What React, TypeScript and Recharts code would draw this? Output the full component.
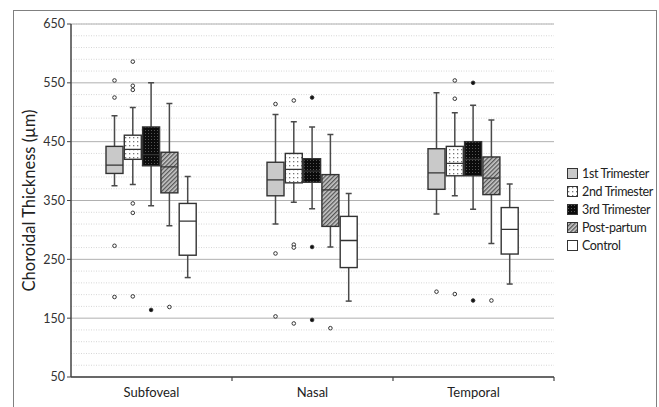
import React from 'react';
import { ComposedChart, Bar, XAxis, YAxis, CartesianGrid } from 'recharts';

const SITES = ['Subfoveal', 'Nasal', 'Temporal'];
const GROUPS = ['1st Trimester', '2nd Trimester', '3rd Trimester', 'Post-partum', 'Control'];

// [lower whisker, Q1, median, Q3, upper whisker] for Subfoveal, Nasal, Temporal
const TRI1_BOX = [[375, 396, 410, 442, 494], [310, 358, 385, 415, 496], [327, 369, 397, 438, 533]];
const TRI2_BOX = [[377, 420, 437, 461, 508], [347, 380, 403, 430, 484], [358, 392, 413, 442, 499]];
const TRI3_BOX = [[341, 409, 428, 475, 550], [336, 381, 400, 421, 475], [335, 392, 420, 450, 512]];
const POST_BOX = [[307, 363, 407, 432, 515], [271, 306, 368, 394, 462], [277, 360, 388, 424, 487]];
const CTRL_BOX = [[219, 257, 315, 345, 391], [179, 236, 282, 323, 362], [208, 259, 301, 338, 378]];

// outliers per site
const TRI1_OUT = [[554, 525, 273, 186], [514, 260, 153], [195]];
const TRI2_OUT = [[586, 545, 538, 345, 329, 187], [520, 275, 270, 141], [554, 523, 191]];
const TRI3_OUT = [[164], [525, 271, 147], [550, 180]];
const POST_OUT = [[169], [133], [180]];
const CTRL_OUT = [[], [], []];

const Y_TICKS = [50, 150, 250, 350, 450, 550, 650];
const MINOR_TICKS = [70, 90, 110, 130, 170, 190, 210, 230, 270, 290, 310, 330, 370, 390, 410, 430, 470, 490, 510, 530, 570, 590, 610, 630];

const BOXES = [TRI1_BOX, TRI2_BOX, TRI3_BOX, POST_BOX, CTRL_BOX];
const OUTS = [TRI1_OUT, TRI2_OUT, TRI3_OUT, POST_OUT, CTRL_OUT];
const KEYS = ['t1', 't2', 't3', 'pp', 'ctrl'];
const FILLS = ['#c9c9c9', 'url(#pDots)', 'url(#pDark)', 'url(#pHatch)', '#ffffff'];

const DATA = SITES.map((site, i) => {
  const row: any = { site };
  KEYS.forEach((k, g) => {
    row[k] = { box: BOXES[g][i], out: OUTS[g][i] };
  });
  return row;
});

const W = 659;
const H = 407;
const M = { top: 24, right: 105, bottom: 0, left: 31 };
const Y_W = 40;
const BAND_HALF = (W - M.left - Y_W - M.right) / 3 / 2;
const FONT = 'Lato, "Open Sans", sans-serif';

function BoxShape(props: any) {
  const { x, y, width, height, payload, gkey, fill, filledOut } = props;
  const s = payload[gkey];
  const [lo, q1, med, q3, hi] = s.box;
  const top = Math.min(y, y + height);
  const h = Math.abs(height);
  const py = (v: number) => top + ((hi - v) * h) / (hi - lo);
  const cx = x + width / 2;
  const cap = 3;
  return (
    <g>
      <line x1={cx} x2={cx} y1={py(hi)} y2={py(q3)} stroke="#4a4a4a" strokeWidth={1.5} />
      <line x1={cx} x2={cx} y1={py(q1)} y2={py(lo)} stroke="#4a4a4a" strokeWidth={1.5} />
      <line x1={cx - cap} x2={cx + cap} y1={py(hi)} y2={py(hi)} stroke="#4a4a4a" strokeWidth={1.5} />
      <line x1={cx - cap} x2={cx + cap} y1={py(lo)} y2={py(lo)} stroke="#4a4a4a" strokeWidth={1.5} />
      <rect x={x} y={py(q3)} width={width} height={py(q1) - py(q3)} fill={fill} stroke="#333" strokeWidth={1.4} />
      <line x1={x} x2={x + width} y1={py(med)} y2={py(med)} stroke="#333" strokeWidth={1.3} />
      {s.out.map((v: number, j: number) => (
        <circle key={j} cx={cx} cy={py(v)} r={1.8} fill={filledOut ? '#111' : '#fff'} stroke="#333" strokeWidth={1} />
      ))}
    </g>
  );
}

function SiteTick(props: any) {
  const { x, y, payload, index } = props;
  return (
    <g>
      <text x={x} y={y + 20} textAnchor="middle" fill="#222" fontSize={13} fontFamily={FONT}>
        {payload.value}
      </text>
      {index > 0 && <line x1={x - BAND_HALF} x2={x - BAND_HALF} y1={y} y2={y + 4} stroke="#444" strokeWidth={1.2} />}
      {index === SITES.length - 1 && (
        <line x1={x + BAND_HALF} x2={x + BAND_HALF} y1={y} y2={y + 4} stroke="#444" strokeWidth={1.2} />
      )}
    </g>
  );
}

function Patterns() {
  return (
    <svg width={0} height={0} style={{ position: 'absolute' }}>
      <defs>
        <pattern id="pDots" width={4} height={4} patternUnits="userSpaceOnUse">
          <rect width={4} height={4} fill="#fff" />
          <rect x={1} y={1} width={1.3} height={1.3} fill="#777" />
        </pattern>
        <pattern id="pDark" width={3} height={3} patternUnits="userSpaceOnUse">
          <rect width={3} height={3} fill="#0c0c0c" />
          <rect x={1} y={1} width={1} height={1} fill="#555" />
        </pattern>
        <pattern id="pHatch" width={3} height={3} patternUnits="userSpaceOnUse" patternTransform="rotate(-45)">
          <rect width={3} height={3} fill="#c8c8c8" />
          <rect width={3} height={1.3} fill="#555" />
        </pattern>
      </defs>
    </svg>
  );
}

export default function App() {
  return (
    <div style={{ position: 'absolute', left: 0, top: 0, width: W, height: H, overflow: 'hidden', background: '#fff' }}>
      <Patterns />
      <div
        style={{
          position: 'absolute', left: 13, top: 10, width: 644, height: 420,
          border: '1.5px solid #808080', boxSizing: 'border-box',
        }}
      />
      <div style={{ position: 'absolute', left: 0, top: 0 }}>
        <ComposedChart width={W} height={H} data={DATA} margin={M} barSize={17} barGap={1.3}>
          <CartesianGrid yAxisId="minor" vertical={false} stroke="#d6d6d6" strokeDasharray="1 1.5" />
          <CartesianGrid vertical={false} stroke="#b0b0b0" strokeWidth={1} />
          <XAxis
            dataKey="site"
            height={30}
            tickSize={0}
            tickMargin={0}
            tickLine={false}
            tick={<SiteTick />}
            interval={0}
            axisLine={{ stroke: '#444', strokeWidth: 1.5 }}
          />
          <YAxis yAxisId="minor" hide type="number" domain={[50, 650]} ticks={MINOR_TICKS} interval={0} allowDataOverflow />
          <YAxis
            type="number"
            domain={[50, 650]}
            ticks={Y_TICKS}
            interval={0}
            width={Y_W}
            tickSize={4}
            allowDataOverflow
            axisLine={{ stroke: '#444', strokeWidth: 1.5 }}
            tickLine={{ stroke: '#444' }}
            tick={{ fill: '#333', fontSize: 12.5, fontFamily: FONT }}
            label={{
              content: ({ viewBox }: any) => {
                const lx = viewBox.x - 2;
                const ly = viewBox.y + viewBox.height / 2;
                return (
                  <text
                    x={lx}
                    y={ly}
                    transform={`rotate(-90 ${lx} ${ly})`}
                    textAnchor="middle"
                    dominantBaseline="central"
                    fill="#222"
                    fontSize={16.5}
                    fontFamily={FONT}
                  >
                    Choroidal Thickness (µm)
                  </text>
                );
              },
            }}
          />
          {KEYS.map((k, g) => (
            <Bar
              key={k}
              dataKey={(d: any) => [d[k].box[0], d[k].box[4]]}
              name={GROUPS[g]}
              isAnimationActive={false}
              shape={(p: any) => <BoxShape {...p} gkey={k} fill={FILLS[g]} filledOut={g === 2} />}
            />
          ))}
        </ComposedChart>
      </div>
      <div
        style={{
          position: 'absolute', left: 567, top: 164, width: 88, whiteSpace: 'nowrap',
          fontFamily: FONT, fontSize: 12.5, letterSpacing: -0.35, color: '#222',
        }}
      >
        {GROUPS.map((name, g) => (
          <div key={name} style={{ display: 'flex', alignItems: 'center', height: 18 }}>
            <svg width={11} height={11} style={{ marginRight: 4, flexShrink: 0 }}>
              <rect x={0.5} y={0.5} width={10} height={10} fill={FILLS[g]} stroke="#333" strokeWidth={1} />
            </svg>
            <span>{name}</span>
          </div>
        ))}
      </div>
    </div>
  );
}
